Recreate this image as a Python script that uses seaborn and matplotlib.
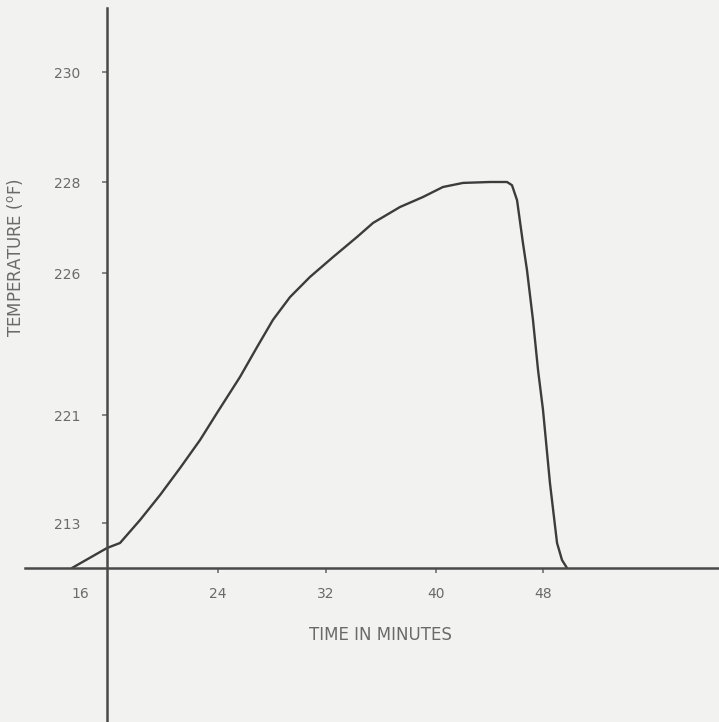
import numpy as np
import matplotlib
matplotlib.use("Agg")
import matplotlib.pyplot as plt
from matplotlib.ticker import NullLocator
import seaborn as sns

# Heating curve: temperature (deg F) against elapsed time (minutes)
minutes = [15.54, 17.57, 18.32, 19.48, 20.64, 21.80, 22.96, 23.94, 25.63, 26.89,
           28.07, 29.33, 30.81, 32.51, 34.25, 35.42, 37.38, 39.05, 40.52, 42.02,
           44.04, 45.31, 45.68, 46.06, 46.50, 46.80, 47.25, 47.63, 48.00, 48.52,
           49.05, 49.42, 49.79]
temperature = [209.67, 211.15, 211.52, 213.22, 215.07, 217.07, 219.15, 221.07, 222.34, 223.39,
               224.35, 225.15, 225.86, 226.35, 226.79, 227.10, 227.45, 227.67, 227.89, 227.98,
               228.00, 228.00, 227.93, 227.60, 226.66, 226.07, 224.35, 222.58, 221.18, 215.96,
               211.52, 210.26, 209.67]

time_ticks = [16, 24, 32, 40, 48]
temp_ticks = [213, 221, 226, 228, 230]
time_labels = ["16", "24", "32", "40", "48"]
temp_labels = ["213", "221", "226", "228", "230"]

# Figure size in pixels and where the hand-ruled tick marks sit on the sheet
W, H = 719, 722
X_TICK_PX = [80, 218, 326, 436, 543]      # from left edge
Y_TICK_PX = [199, 307, 449, 540, 650]     # from bottom edge
Y_AXIS_PX = 107
X_AXIS_PX = 154


def piecewise(vals, pos):
    """Piecewise-linear scale through the ruled tick marks, extended at both ends."""
    vals = np.asarray(vals, float)
    pos = np.asarray(pos, float)

    def build(a, b):
        s0 = (b[1] - b[0]) / (a[1] - a[0])
        s1 = (b[-1] - b[-2]) / (a[-1] - a[-2])

        def f(v):
            v = np.asarray(v, float)
            out = np.interp(v, a, b)
            out = np.where(v < a[0], b[0] + (v - a[0]) * s0, out)
            out = np.where(v > a[-1], b[-1] + (v - a[-1]) * s1, out)
            return out
        return f

    return build(vals, pos), build(pos, vals)


fx, fx_inv = piecewise(time_ticks, X_TICK_PX)
fy, fy_inv = piecewise(temp_ticks, Y_TICK_PX)

sns.set_style("white")
paper = "#f2f2f0"
ink = "#3c3c3c"
grey_text = "#6a6a6a"

fig = plt.figure(figsize=(W / 100, H / 100), dpi=100, facecolor=paper)
ax = fig.add_axes([0, 0, 1, 1], facecolor=paper)

sns.lineplot(x=minutes, y=temperature, ax=ax, sort=False, estimator=None,
             color=ink, linewidth=1.7, solid_joinstyle="round")

ax.set_xscale("function", functions=(fx, fx_inv))
ax.set_yscale("function", functions=(fy, fy_inv))
ax.set_xlim(float(fx_inv(0)), float(fx_inv(W)))
ax.set_ylim(float(fy_inv(0)), float(fy_inv(H)))

# Axes drawn as two crossing rules
for side in ("top", "right"):
    ax.spines[side].set_visible(False)
ax.spines["left"].set_position(("axes", Y_AXIS_PX / W))
ax.spines["bottom"].set_position(("axes", X_AXIS_PX / H))
ax.spines["left"].set_bounds(float(fy_inv(0)), float(fy_inv(H - 8)))
ax.spines["bottom"].set_bounds(float(fx_inv(25)), float(fx_inv(W)))
for side in ("left", "bottom"):
    ax.spines[side].set_color("#4a4a4a")
    ax.spines[side].set_linewidth(1.8)

ax.set_xticks(time_ticks)
ax.set_xticklabels(time_labels)
ax.set_yticks(temp_ticks)
ax.set_yticklabels(temp_labels)
ax.xaxis.set_minor_locator(NullLocator())
ax.yaxis.set_minor_locator(NullLocator())
ax.tick_params(axis="x", bottom=True, direction="out", length=3.5, width=1.1,
               color="#666666", pad=10.5, labelsize=10, labelcolor=grey_text)
ax.tick_params(axis="y", left=True, direction="out", length=3.5, width=1.1,
               color="#666666", pad=15.5, labelsize=10, labelcolor=grey_text)
ax.xaxis.get_major_ticks()[0].tick1line.set_visible(False)

fig.text(15 / W, 1 - 258 / H, "TEMPERATURE ($^{\\rm o}$F)", rotation=90,
         ha="center", va="center", fontsize=12, color=grey_text)
fig.text(380 / W, 1 - 635 / H, "TIME IN MINUTES",
         ha="center", va="center", fontsize=12, color=grey_text)

fig.savefig("out.png", dpi=100, facecolor=paper)
